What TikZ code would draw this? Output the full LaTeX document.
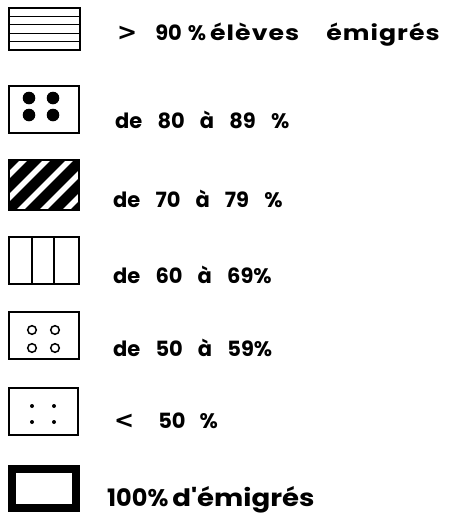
\documentclass[tikz,border=0pt]{standalone}
\usepackage{fontspec}
\setmainfont{Poppins}[WordSpace=3.4]
\newfontfamily\widefont{Poppins}[FakeStretch=1.2, LetterSpace=5]
\newfontfamily\midfont{Poppins}[FakeStretch=1.15]
\newfontfamily\signfont{DejaVu Sans}
\usetikzlibrary{positioning}

\begin{document}
\begin{tikzpicture}[x=1pt, y=-1pt,
    legbox/.style={draw=black, line width=1.3pt},
    legtext/.style={anchor=west, inner sep=0pt, font=\bfseries\fontsize{21}{24}\selectfont},
    bigdot/.style={fill=black},
    smalldot/.style={fill=black}
]
\useasboundingbox (0,0) rectangle (449,517);

% ---- > 90 % (lignes horizontales) ----
\draw[legbox] (9,8) rectangle (80,50);
\foreach \y in {16.4,24.8,33.2,41.6}
  \draw[line width=1.1pt] (9,\y) -- (80,\y);
\node[legtext] (t90) at (117,35) {{\signfont\fontsize{24}{24}\selectfont >}\hspace{18pt}90\hspace{6pt}\%\hspace{4pt}{\widefont élèves}\hspace{27pt}{\widefont émigrés}};

% ---- de 80 à 89 % (gros points) ----
\draw[legbox] (9,86) rectangle (79,133);
\foreach \x in {29,53}
  \foreach \y in {98,115}
    \fill[bigdot] (\x,\y) circle (6.3);
\node[legtext] (t80) at (115,120) {de 80 à 89 \%};

% ---- de 70 à 79 % (hachures) ----
\fill[black] (9,160) rectangle (79,210);
\begin{scope}
  \clip (9,160) rectangle (79,210);
  \foreach \x in {-37,-14,9,32,55}
    \draw[white, line width=5.5pt] (9+\x,212) -- (9+\x+54,158);
\end{scope}
\draw[legbox] (9,160) rectangle (79,210);
\node[legtext] (t70) at (113,199) {de 70 à 79 \%};

% ---- de 60 à 69 % (lignes verticales) ----
\draw[legbox] (9,237) rectangle (79,284);
\foreach \x in {32,54}
  \draw[line width=1.3pt] (\x,237) -- (\x,284);
\node[legtext] (t60) at (113,275) {de 60 à 69\%};

% ---- de 50 à 59 % (cercles) ----
\draw[legbox] (9,312) rectangle (79,359);
\foreach \x in {32,55}
  \foreach \y in {330,348}
    \draw[line width=1.5pt] (\x,\y) circle (4.3);
\node[legtext] (t50) at (113,348) {de 50 à 59\%};

% ---- < 50 % (petits points) ----
\draw[legbox] (9,388) rectangle (78,435);
\foreach \x in {32,54}
  \foreach \y in {406,422}
    \fill[smalldot] (\x,\y) circle (2);
\node[legtext] (tmoins) at (114,421) {{\signfont\fontsize{24}{24}\selectfont <}\hspace{24pt}50\hspace{14pt}\%};

% ---- 100 % d'émigrés (cadre épais) ----
\draw[line width=8pt] (12,469) rectangle (76,508);
\node[legtext, font=\bfseries\fontsize{24}{26}\selectfont] (tcent) at (107,500) {100\%\hspace{4pt}{\midfont d'émigrés}};

\end{tikzpicture}
\end{document}
